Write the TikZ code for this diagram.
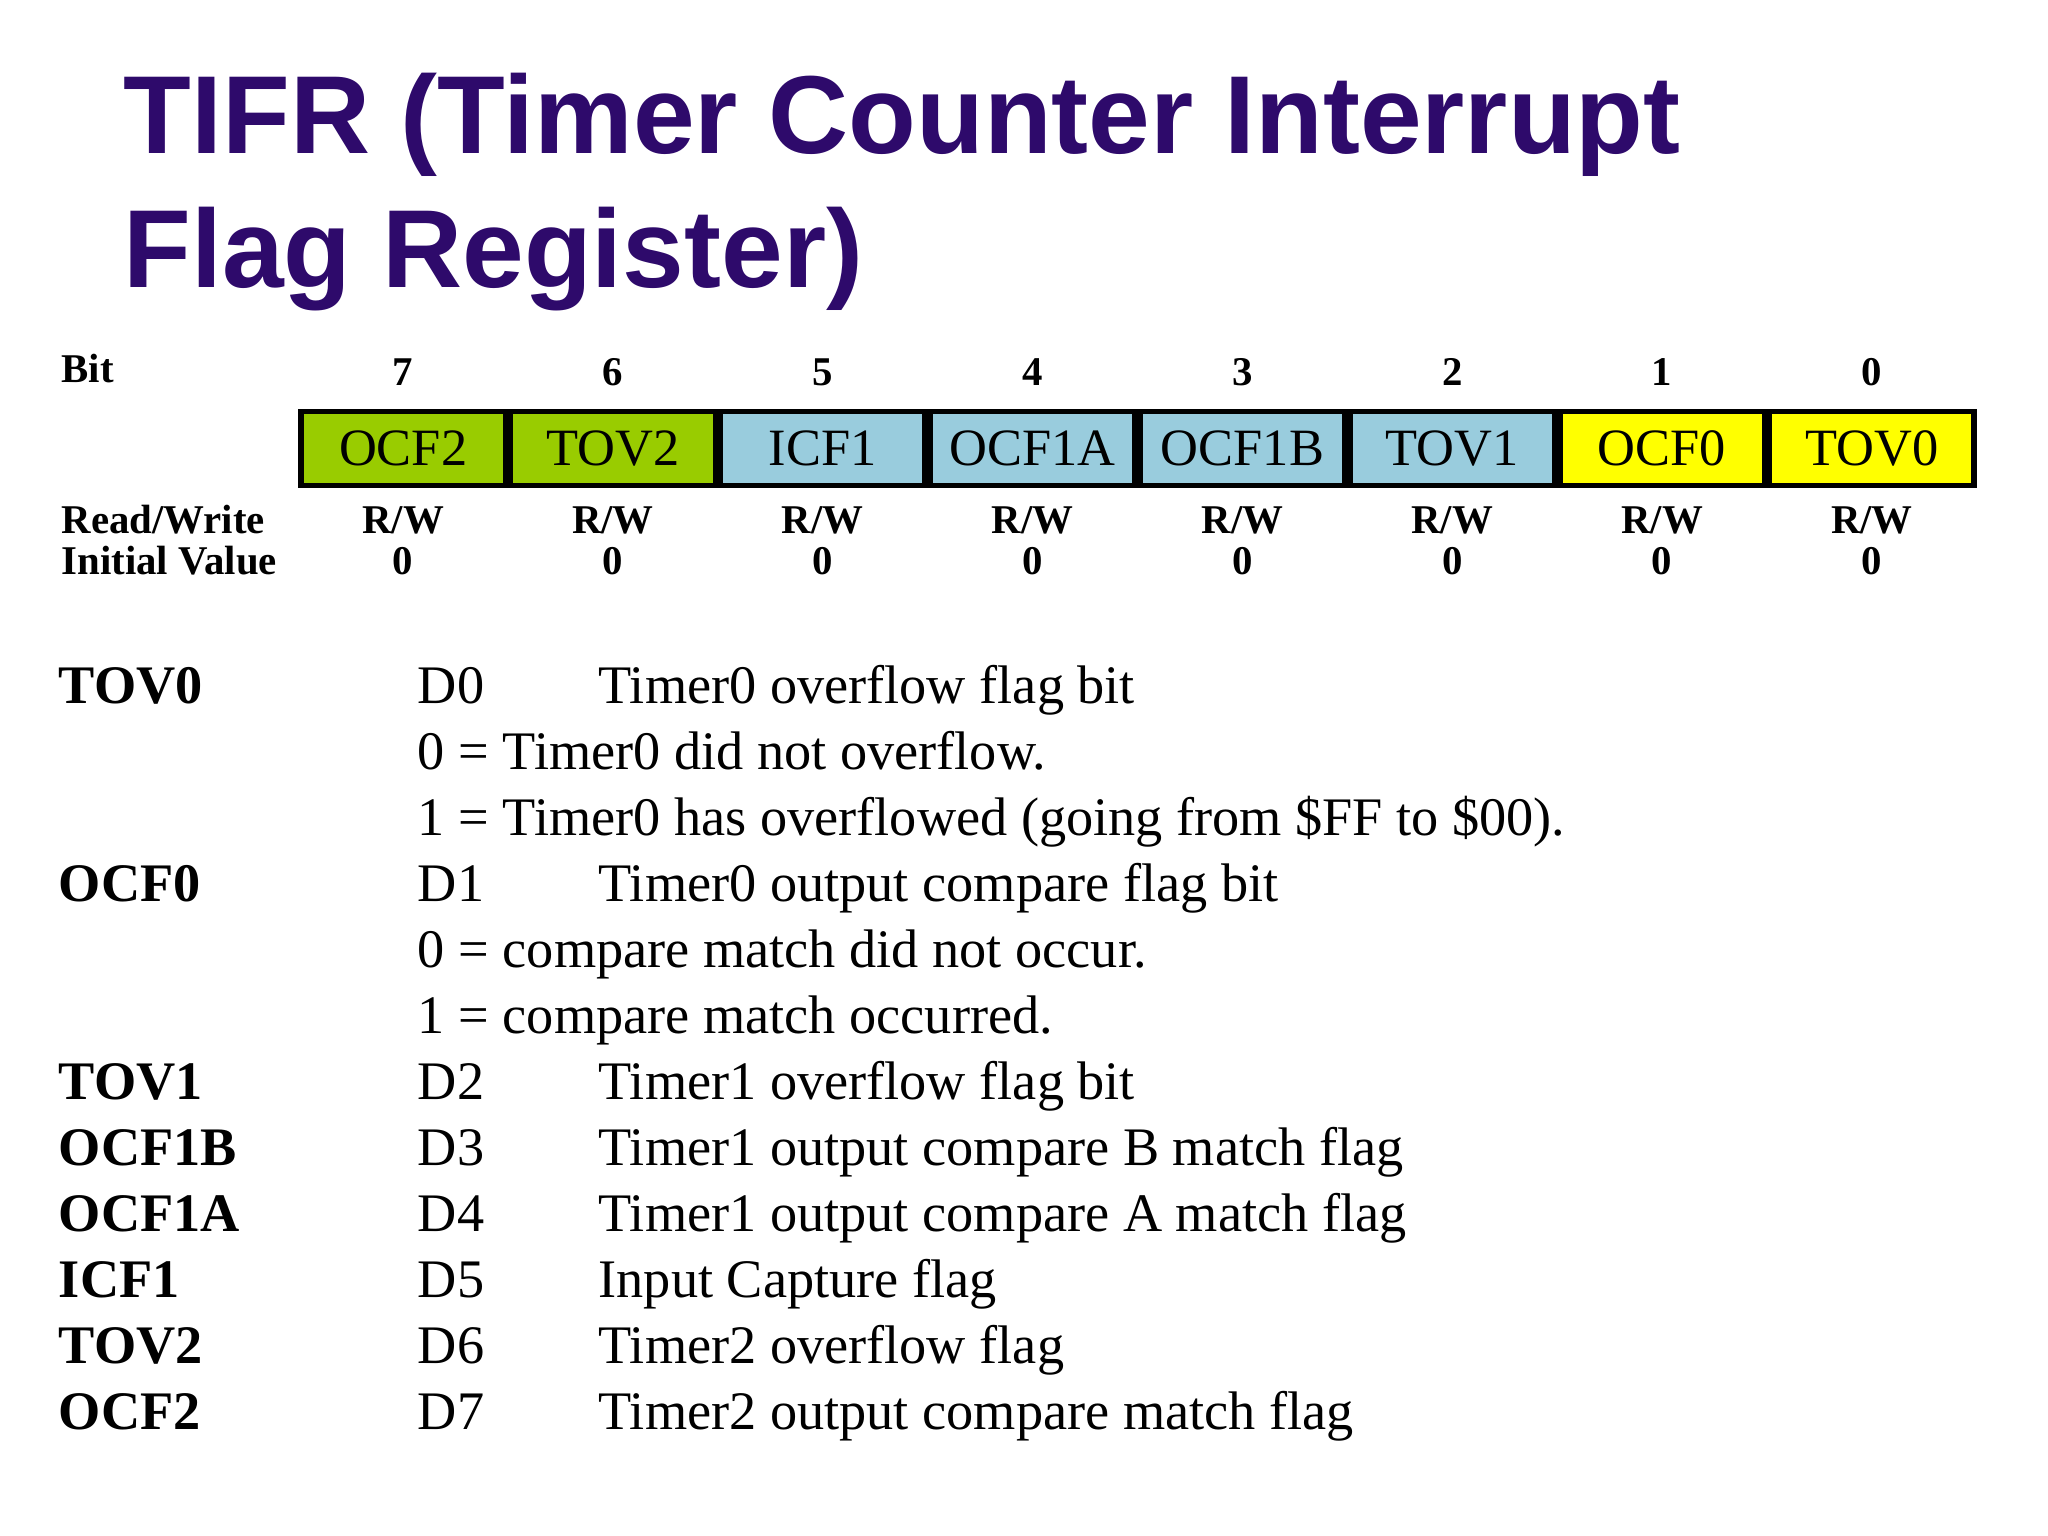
\documentclass[tikz,border=0pt]{standalone}
\usepackage{fontspec}
\setmainfont{Liberation Serif}
\newfontfamily\titlefont{Liberation Sans}
\usetikzlibrary{positioning}
\definecolor{titlepurple}{HTML}{2E0A6B}
\definecolor{flaggreen}{HTML}{99CC00}
\definecolor{flagblue}{HTML}{99CCDD}
\definecolor{flagyellow}{HTML}{FFFF00}

\begin{document}
\begin{tikzpicture}[x=0.01cm, y=-0.01cm,
  title/.style = {anchor=base west, inner sep=0, text=titlepurple, font=\titlefont\bfseries\fontsize{23.9}{24}\selectfont},
  cell/.style = {draw, line width=1.2pt, minimum width=1.55cm, minimum height=0.56cm, inner sep=0, font=\fontsize{11.3}{11.3}\selectfont},
  small/.style = {inner sep=0, anchor=base, font=\bfseries\fontsize{8.8}{8.8}\selectfont},
  desc/.style = {inner sep=0, anchor=base west, font=\fontsize{11.7}{12}\selectfont},
  flagname/.style = {desc, font=\bfseries\fontsize{11.7}{12}\selectfont}]
  \useasboundingbox (0,0) rectangle (1552,1164);
  % Title
  \node[title] (t1) at (93,116) {TIFR (Timer Counter Interrupt};
  \node[title] (t2) at (93,218) {Flag Register)};

  % Register cells
  \node[small, anchor=base west] (bit) at (46,290) {Bit};
  \node[small, anchor=base west] (rw) at (46,404) {Read/Write};
  \node[small, anchor=base west] (iv) at (46,435) {Initial Value};
  \foreach \n/\lab/\col [count=\i from 0] in {7/OCF2/flaggreen, 6/TOV2/flaggreen, 5/ICF1/flagblue, 4/OCF1A/flagblue, 3/OCF1B/flagblue, 2/TOV1/flagblue, 1/OCF0/flagyellow, 0/TOV0/flagyellow}{
    \node[cell, fill=\col] (c\n) at ({226+79.5+159*\i},340) {\lab};
    \node[small] (b\n) at ({226+79.5+159*\i},292) {\n};
    \node[small] (rw\n) at ({226+79.5+159*\i},404) {R/W};
    \node[small] (iv\n) at ({226+79.5+159*\i},435) {0};
  }

  % Descriptions
  \foreach \nm/\d/\txt [count=\i from 0] in {
      TOV0/D0/Timer0 overflow flag bit,
      //0 = Timer0 did not overflow.,
      //1 = Timer0 has overflowed (going from \$FF to \$00).,
      OCF0/D1/Timer0 output compare flag bit,
      //0 = compare match did not occur.,
      //1 = compare match occurred.,
      TOV1/D2/Timer1 overflow flag bit,
      OCF1B/D3/Timer1 output compare B match flag,
      OCF1A/D4/Timer1 output compare A match flag,
      ICF1/D5/Input Capture flag,
      TOV2/D6/Timer2 overflow flag,
      OCF2/D7/Timer2 output compare match flag}{
    \node[flagname] (n\i) at (44,{533+50*\i}) {\nm};
    \ifx\d\empty
      \node[desc] (x\i) at (316,{533+50*\i}) {\txt};
    \else
      \node[desc] (d\i) at (316,{533+50*\i}) {\d};
      \node[desc] (x\i) at (453,{533+50*\i}) {\txt};
    \fi
  }
\end{tikzpicture}
\end{document}
